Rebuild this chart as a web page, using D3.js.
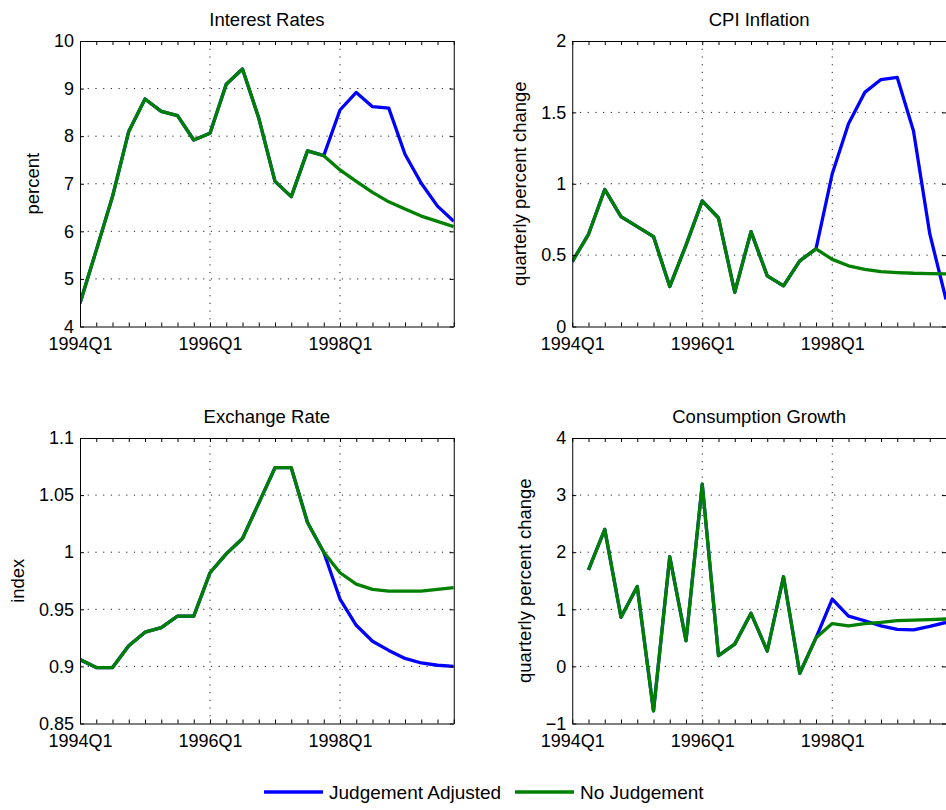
<!DOCTYPE html>
<html>
<head>
<meta charset="utf-8">
<script src="https://cdn.jsdelivr.net/npm/d3@7"></script>
<style>
  body { margin: 0; background: #fff; }
  svg { display: block; font-family: "Liberation Sans", Arial, Helvetica, sans-serif; }
  .grid line { stroke: #222; stroke-width: 1; stroke-dasharray: 1.2 6.5; }
  .axis path, .axis line { stroke: #000; }
</style>
</head>
<body>
<div id="chart"></div>
<script>
// Quarters on the x axis
const quarters = [
    '1994Q1', '1994Q2', '1994Q3', '1994Q4',
    '1995Q1', '1995Q2', '1995Q3', '1995Q4',
    '1996Q1', '1996Q2', '1996Q3', '1996Q4',
    '1997Q1', '1997Q2', '1997Q3', '1997Q4',
    '1998Q1', '1998Q2', '1998Q3', '1998Q4',
    '1999Q1', '1999Q2', '1999Q3', '1999Q4'
];
const xTickLabels = ['1994Q1', '1996Q1', '1998Q1'];

const seriesNames = ['Judgement Adjusted', 'No Judgement'];

// Interest rates (percent)
const rateAdjusted = [4.49, 5.6, 6.73, 8.1, 8.78, 8.52, 8.43, 7.92, 8.06, 9.09, 9.41, 8.38,
    7.05, 6.73, 7.69, 7.59, 8.55, 8.92, 8.62, 8.59, 7.62, 7.01, 6.53, 6.21];
const rateNoJudgement = [4.49, 5.6, 6.73, 8.1, 8.78, 8.52, 8.43, 7.92, 8.06, 9.09, 9.41, 8.38,
    7.05, 6.73, 7.69, 7.59, 7.29, 7.05, 6.82, 6.62, 6.47, 6.32, 6.21, 6.10];
const rateTicks = [4, 5, 6, 7, 8, 9, 10];

// CPI inflation (quarterly percent change)
const cpiAdjusted = [0.455, 0.646, 0.96, 0.77, 0.70, 0.63, 0.28, 0.57, 0.88, 0.76, 0.24, 0.665,
    0.355, 0.285, 0.46, 0.544, 1.07, 1.42, 1.64, 1.73, 1.745, 1.37, 0.65, 0.19];
const cpiNoJudgement = [0.455, 0.646, 0.96, 0.77, 0.70, 0.63, 0.28, 0.57, 0.88, 0.76, 0.24, 0.665,
    0.355, 0.285, 0.46, 0.544, 0.47, 0.425, 0.40, 0.385, 0.378, 0.373, 0.371, 0.369];
const cpiTicks = [0, 0.5, 1, 1.5, 2];

// Exchange rate (index)
const fxAdjusted = [0.906, 0.899, 0.899, 0.918, 0.930, 0.934, 0.944, 0.944, 0.982, 0.9985, 1.012, 1.043,
    1.074, 1.074, 1.026, 1.0, 0.959, 0.936, 0.922, 0.914, 0.907, 0.903, 0.901, 0.900];
const fxNoJudgement = [0.906, 0.899, 0.899, 0.918, 0.930, 0.934, 0.944, 0.944, 0.982, 0.9985, 1.012, 1.043,
    1.074, 1.074, 1.026, 1.0, 0.982, 0.972, 0.9675, 0.966, 0.966, 0.966, 0.9675, 0.969];
const fxTicks = [0.85, 0.9, 0.95, 1, 1.05, 1.1];

// Consumption growth (quarterly percent change), no value for the first quarter
const consAdjusted = [null, 1.69, 2.40, 0.86, 1.40, -0.78, 1.92, 0.45, 3.19, 0.19, 0.39, 0.93,
    0.27, 1.57, -0.12, 0.50, 1.18, 0.88, 0.80, 0.71, 0.65, 0.64, 0.70, 0.77];
const consNoJudgement = [null, 1.69, 2.40, 0.86, 1.40, -0.78, 1.92, 0.45, 3.19, 0.19, 0.39, 0.93,
    0.27, 1.57, -0.12, 0.50, 0.75, 0.71, 0.75, 0.77, 0.80, 0.81, 0.82, 0.83];
const consTicks = [-1, 0, 1, 2, 3, 4];

const colors = ['#0000ff', '#008000'];

const width = 946, height = 810;
const plotW = 373.75, plotH = 285.5;

const panels = [
    {title: 'Interest Rates', ylabel: 'percent', left: 80, top: 41, labelX: 39,
     series: [rateAdjusted, rateNoJudgement], ticks: rateTicks},
    {title: 'CPI Inflation', ylabel: 'quarterly percent change', left: 572.25, top: 41, labelX: 526,
     series: [cpiAdjusted, cpiNoJudgement], ticks: cpiTicks},
    {title: 'Exchange Rate', ylabel: 'index', left: 80, top: 438, labelX: 24,
     series: [fxAdjusted, fxNoJudgement], ticks: fxTicks},
    {title: 'Consumption Growth', ylabel: 'quarterly percent change', left: 572.25, top: 438, labelX: 531,
     series: [consAdjusted, consNoJudgement], ticks: consTicks}
];

const svg = d3.select('#chart')
    .append('svg')
    .attr('width', width)
    .attr('height', height);

const x = d3.scalePoint()
    .domain(quarters)
    .range([0, plotW]);

panels.forEach((p, pi) => {
    const y = d3.scaleLinear()
        .domain(d3.extent(p.ticks))
        .range([plotH, 0]);

    const g = svg.append('g')
        .attr('transform', `translate(${p.left},${p.top})`);

    // Grid
    const grid = g.append('g').attr('class', 'grid');
    grid.selectAll('.gy')
        .data(p.ticks.slice(1, -1))
        .enter()
        .append('line')
        .attr('x1', 0)
        .attr('x2', plotW)
        .attr('y1', d => y(d))
        .attr('y2', d => y(d));
    grid.selectAll('.gx')
        .data(xTickLabels.slice(1))
        .enter()
        .append('line')
        .attr('x1', d => x(d))
        .attr('x2', d => x(d))
        .attr('y1', 0)
        .attr('y2', plotH);

    // Lines
    g.append('clipPath')
        .attr('id', 'clip' + pi)
        .append('rect')
        .attr('x', 0)
        .attr('y', 0)
        .attr('width', plotW)
        .attr('height', plotH);

    const line = d3.line()
        .defined(d => d != null)
        .x((d, i) => x(quarters[i]))
        .y(d => y(d));

    p.series.forEach((s, si) => {
        g.append('path')
            .datum(s)
            .attr('clip-path', `url(#clip${pi})`)
            .attr('fill', 'none')
            .attr('stroke', colors[si])
            .attr('stroke-width', 3.3)
            .attr('stroke-linejoin', 'round')
            .attr('d', line);
    });

    // Axes (box with inward ticks)
    const fmt = d3.format('~g');
    g.append('g')
        .attr('class', 'axis')
        .call(d3.axisLeft(y).tickValues(p.ticks).tickSize(-4).tickSizeOuter(0)
            .tickPadding(6).tickFormat(fmt))
        .call(a => a.selectAll('text').attr('font-size', 18).attr('fill', '#000'));
    g.append('g')
        .attr('class', 'axis')
        .attr('transform', `translate(${plotW},0)`)
        .call(d3.axisRight(y).tickValues(p.ticks).tickSize(-4).tickSizeOuter(0).tickFormat(''));
    g.append('g')
        .attr('class', 'axis')
        .attr('transform', `translate(0,${plotH})`)
        .call(d3.axisBottom(x).tickSize(-4).tickSizeOuter(0).tickPadding(11)
            .tickFormat(d => xTickLabels.includes(d) ? d : ''))
        .call(a => a.selectAll('text').attr('font-size', 18).attr('fill', '#000'));
    g.append('g')
        .attr('class', 'axis')
        .call(d3.axisTop(x).tickSize(-4).tickSizeOuter(0).tickFormat(''));

    // Title
    svg.append('text')
        .attr('x', p.left + plotW / 2)
        .attr('y', p.top - 15)
        .attr('text-anchor', 'middle')
        .attr('font-size', 18.5)
        .text(p.title);

    // Y label
    svg.append('text')
        .attr('transform', `translate(${p.labelX},${p.top + plotH / 2}) rotate(-90)`)
        .attr('text-anchor', 'middle')
        .attr('font-size', 18.5)
        .text(p.ylabel);
});

// Legend
const legendItems = [
    {name: seriesNames[0], color: colors[0], x: 264},
    {name: seriesNames[1], color: colors[1], x: 515}
];
const legend = svg.append('g');
legendItems.forEach(item => {
    legend.append('line')
        .attr('x1', item.x)
        .attr('x2', item.x + 59)
        .attr('y1', 792)
        .attr('y2', 792)
        .attr('stroke', item.color)
        .attr('stroke-width', 3.3);
    legend.append('text')
        .attr('x', item.x + 65)
        .attr('y', 799)
        .attr('font-size', 19)
        .text(item.name);
});
</script>
</body>
</html>
